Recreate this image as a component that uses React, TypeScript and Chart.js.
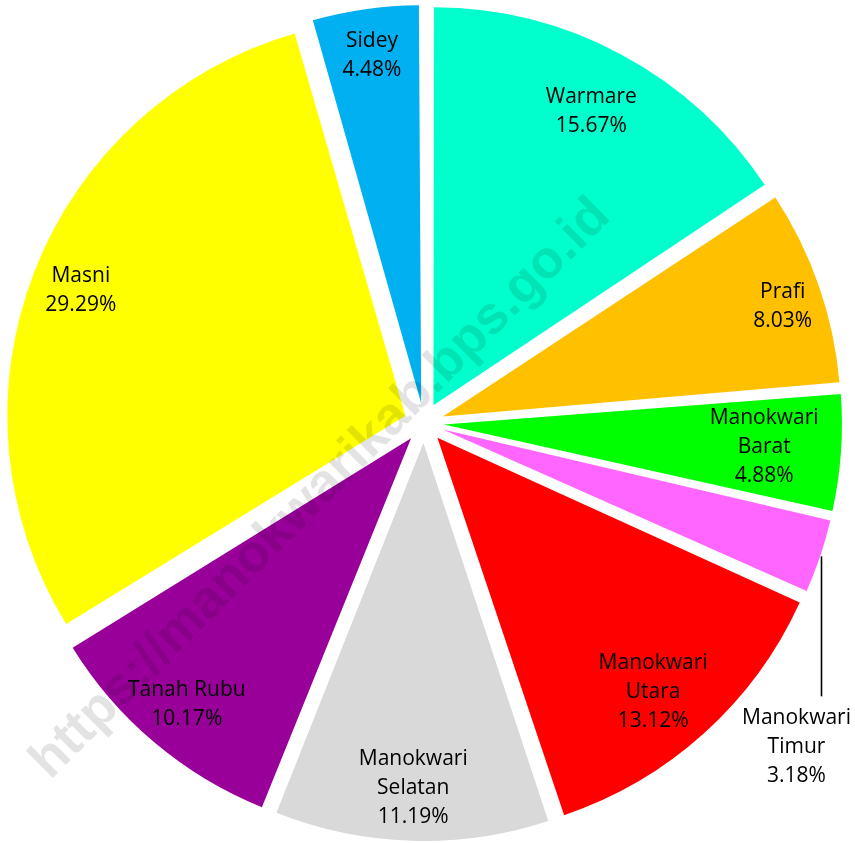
import React, { useEffect, useRef } from "react";
import { Chart, registerables } from "chart.js";

Chart.register(...registerables);

// ---- data ----
const categories = [
  "Warmare",
  "Prafi",
  "Manokwari Barat",
  "Manokwari Timur",
  "Manokwari Utara",
  "Manokwari Selatan",
  "Tanah Rubu",
  "Masni",
  "Sidey",
];
const shares = [15.67, 8.03, 4.88, 3.18, 13.12, 11.19, 10.17, 29.29, 4.48];
const sliceColors = [
  "#00FFCC",
  "#FFC000",
  "#00FF00",
  "#FF66FF",
  "#FF0000",
  "#D9D9D9",
  "#990099",
  "#FFFF00",
  "#00B0F0",
];
const watermarkText = "https://manokwarikab.bps.go.id";

// ---- layout / style ----
const W = 855;
const H = 843;
const PIE_RADIUS = 398;
const EXPLODE = 20; // px each slice is pulled out
const LABEL_DIST = [354, 377, 341, 0, 353, 365, 368, 368, 371];
const LABEL_ANGLE_SHIFT = [0, 1.2, 0, 0, 1.6, 0, 0, 0, 0]; // degrees
const OUTSIDE_LABEL = 3;
const LEADER_LEN = 140;
const FONT = '21px "Open Sans"';
const LINE_H = 29;

function labelLines(name: string, value: number): string[] {
  const parts = name.startsWith("Manokwari ") ? name.split(" ") : [name];
  return [...parts, value.toFixed(2) + "%"];
}

const explodeFix = {
  id: "explodeFix",
  beforeDatasetsDraw(chart: any) {
    const meta = chart.getDatasetMeta(0);
    const R = meta.controller.outerRadius;
    meta.data.forEach((el: any) => {
      const off = (el.options.offset || 0) / 4;
      const circ = el.endAngle - el.startAngle;
      const fix = 1 - Math.sin(Math.min(Math.PI, circ));
      el.outerRadius = R - off * fix;
    });
  },
};

const sliceLabels = {
  id: "sliceLabels",
  afterDatasetsDraw(chart: any) {
    const ctx = chart.ctx as CanvasRenderingContext2D;
    const meta = chart.getDatasetMeta(0);
    const R = meta.controller.outerRadius;
    ctx.save();
    ctx.font = FONT;
    ctx.fillStyle = "#000";
    ctx.strokeStyle = "#000";
    ctx.lineWidth = 1.6;
    ctx.textAlign = "center";
    ctx.textBaseline = "middle";
    meta.data.forEach((el: any, i: number) => {
      const mid = (el.startAngle + el.endAngle) / 2;
      const lines = labelLines(categories[i], shares[i]);
      let lx: number;
      let ly: number;
      if (i === OUTSIDE_LABEL) {
        const sx = Math.round(el.x + Math.cos(mid) * (EXPLODE + R)) + 1.5;
        const sy = el.y + Math.sin(mid) * (EXPLODE + R);
        ctx.beginPath();
        ctx.moveTo(sx, sy);
        ctx.lineTo(sx, sy + LEADER_LEN);
        ctx.stroke();
        lx = sx - 25;
        ly = sy + LEADER_LEN + 22 + LINE_H;
      } else {
        const a = mid + (LABEL_ANGLE_SHIFT[i] * Math.PI) / 180;
        lx = el.x + Math.cos(a) * LABEL_DIST[i];
        ly = el.y + Math.sin(a) * LABEL_DIST[i];
      }
      lines.forEach((t, k) => {
        ctx.fillText(t, lx, ly + (k - (lines.length - 1) / 2) * LINE_H);
      });
    });
    ctx.restore();
  },
};

const watermark = {
  id: "watermark",
  afterDraw(chart: any) {
    const ctx = chart.ctx as CanvasRenderingContext2D;
    ctx.save();
    ctx.translate(321, 489);
    ctx.rotate(-Math.PI / 4);
    ctx.font = 'bold 53px "Liberation Sans"';
    ctx.fillStyle = "rgba(0,0,0,0.11)";
    ctx.textAlign = "center";
    ctx.textBaseline = "middle";
    ctx.fillText(watermarkText, 0, 0);
    ctx.restore();
  },
};

export default function App() {
  const ref = useRef<HTMLCanvasElement | null>(null);
  useEffect(() => {
    if (!ref.current) return;
    const chart = new Chart(ref.current, {
      type: "pie",
      data: {
        labels: categories,
        datasets: [
          {
            data: shares,
            backgroundColor: sliceColors,
            borderWidth: 0,
            offset: EXPLODE * 4,
            hoverOffset: 0,
          },
        ],
      },
      options: {
        responsive: false,
        animation: false,
        radius: PIE_RADIUS,
        layout: { padding: { left: 0, right: 7, top: 3, bottom: 0 } },
        plugins: {
          legend: { display: false },
          tooltip: { enabled: false },
        },
        events: [],
      } as any,
      plugins: [explodeFix, sliceLabels, watermark],
    });
    return () => chart.destroy();
  }, []);
  return (
    <div style={{ position: "absolute", left: 0, top: 0, width: W, height: H, background: "#fff" }}>
      <canvas ref={ref} width={W} height={H} style={{ display: "block" }} />
    </div>
  );
}
